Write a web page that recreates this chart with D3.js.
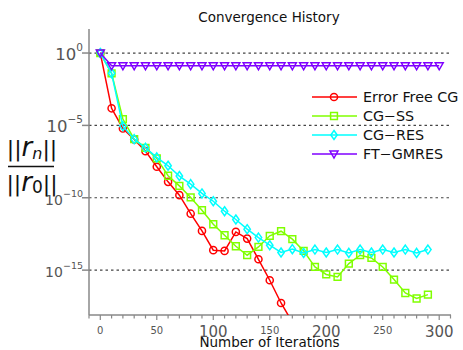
<!DOCTYPE html>
<html>
<head>
<meta charset="utf-8">
<script src="https://cdn.jsdelivr.net/npm/d3@7"></script>
<style>
  body { margin: 0; background: #fff; }
  text { font-family: "DejaVu Sans", sans-serif; }
</style>
</head>
<body>
<svg></svg>
<script>
// iterations every 10, values are log10 of the relative residual
let iters = d3.range(0, 310, 10)
let errorFreeCG = [0, -3.82, -5.21, -5.97, -6.78, -7.86, -8.9, -9.82, -11.1, -12.29,
  -13.62, -13.67, -12.36, -12.82, -14.25, -15.7, -17.27, -18.6]
let cgSS = [0, -1.4, -4.56, -5.95, -6.55, -7.28, -8.48, -9.18, -9.98, -10.86,
  -11.83, -12.59, -13.35, -13.97, -13.4, -12.63, -12.31, -12.86, -13.67, -14.78,
  -15.3, -15.47, -14.55, -13.97, -14.16, -14.78, -15.65, -16.58, -16.96, -16.69]
let cgRES = [0, -1.4, -5.05, -5.95, -6.55, -7.21, -7.79, -8.5, -9.06, -9.7,
  -10.24, -10.93, -11.5, -12.17, -12.75, -13.28, -13.78, -13.55, -13.81, -13.58,
  -13.78, -13.58, -13.81, -13.58, -13.78, -13.58, -13.78, -13.58, -13.81, -13.58]
let ftGMRES = [0].concat(d3.range(30).map(() => -0.88))
let seriesNames = ['Error Free CG', 'CG\u2212SS', 'CG\u2212RES', 'FT\u2212GMRES']
let xTicks = [0, 50, 100, 150, 200, 250, 300]
let bigXTicks = [100, 200, 300]
let yTickExps = [0, -5, -10, -15]

let width = 463,
    height = 350

let svg = d3.select('svg').attr('width', width).attr('height', height)

let x = d3.scaleLinear().domain([-10, 310]).range([89, 450.5])
let y = d3.scaleLog().domain([Math.pow(10, -18.1), Math.pow(10, 1.66)]).range([315, 29])

let series = [
  { name: seriesNames[0], values: errorFreeCG, color: '#ff0000', marker: 'circle' },
  { name: seriesNames[1], values: cgSS, color: '#80ff00', marker: 'square' },
  { name: seriesNames[2], values: cgRES, color: '#00ffff', marker: 'diamond' },
  { name: seriesNames[3], values: ftGMRES, color: '#7f00ff', marker: 'triangle' }
]

// clip for lines running off the bottom
svg.append('clipPath').attr('id', 'plot')
  .append('rect').attr('x', 89).attr('y', 20).attr('width', 370).attr('height', 295)

// grid
svg.append('g').selectAll('line')
  .data(yTickExps)
  .enter().append('line')
  .attr('x1', 89).attr('x2', 452)
  .attr('y1', d => y(Math.pow(10, d))).attr('y2', d => y(Math.pow(10, d)))
  .attr('stroke', '#444').attr('stroke-width', 1.2).attr('stroke-dasharray', '2.5,3')

// axes
let ax = svg.append('g').attr('stroke', '#888').attr('stroke-width', 1.5)
ax.append('line').attr('x1', 89).attr('x2', 89).attr('y1', 29).attr('y2', 315)
ax.append('line').attr('x1', 89).attr('x2', 451).attr('y1', 315).attr('y2', 315)
ax.selectAll('.xt').data(d3.range(-10, 311, 10)).enter().append('line')
  .attr('x1', d => x(d)).attr('x2', d => x(d))
  .attr('y1', 315).attr('y2', d => d % 50 == 0 ? 320 : 318.5)
  .attr('stroke-width', 1.2)
ax.selectAll('.yt').data(yTickExps).enter().append('line')
  .attr('x1', 82).attr('x2', 89)
  .attr('y1', d => y(Math.pow(10, d))).attr('y2', d => y(Math.pow(10, d)))

// x tick labels, matlab mixes sizes here
svg.append('g').selectAll('text')
  .data(xTicks)
  .enter().append('text')
  .attr('x', d => x(d))
  .attr('y', d => bigXTicks.includes(d) ? 336.5 : 333.5)
  .attr('text-anchor', 'middle')
  .attr('fill', '#555')
  .attr('font-size', d => bigXTicks.includes(d) ? 15 : 10)
  .text(d => d)

// y tick labels
let yl = svg.append('g').selectAll('text')
  .data(yTickExps)
  .enter().append('text')
  .attr('x', 83)
  .attr('y', d => y(Math.pow(10, d)) + 7)
  .attr('text-anchor', 'end')
  .attr('fill', '#555')
  .attr('font-size', d => d > -10 ? 16.5 : 14)
yl.append('tspan').text('10')
yl.append('tspan').attr('dy', d => d > -10 ? -9 : -8)
  .attr('font-size', d => d > -10 ? 10.5 : 9.5)
  .text(d => d == 0 ? '0' : '\u2212' + (-d))

// series
let line = d3.line().x((d, i) => x(iters[i])).y(d => y(Math.pow(10, d)))

function markerPath(type) {
  if (type == 'circle') return d3.symbol(d3.symbolCircle, 40)()
  if (type == 'square') return 'M-3.4,-3.4H3.4V3.4H-3.4Z'
  if (type == 'diamond') return 'M0,-4.5L3.2,0L0,4.5L-3.2,0Z'
  return 'M-4,-3L4,-3L0,4Z'
}

let g = svg.append('g').attr('clip-path', 'url(#plot)')
series.forEach(s => {
  g.append('path')
    .attr('d', line(s.values))
    .attr('fill', 'none')
    .attr('stroke', s.color)
    .attr('stroke-width', 1.5)
  g.selectAll('.m')
    .data(s.values.filter(v => v > -18.1))
    .enter().append('path')
    .attr('transform', (d, i) => `translate(${x(iters[i])},${y(Math.pow(10, d))})`)
    .attr('d', markerPath(s.marker))
    .attr('fill', 'none')
    .attr('stroke', s.color)
    .attr('stroke-width', 1.5)
})

// legend
let lg = svg.append('g').selectAll('g')
  .data(series)
  .enter().append('g')
  .attr('transform', (d, i) => `translate(312,${97 + i * 19})`)
lg.append('line').attr('x1', 0).attr('x2', 45)
  .attr('stroke', d => d.color).attr('stroke-width', 1.5)
lg.append('path').attr('transform', 'translate(22,0)')
  .attr('d', d => markerPath(d.marker))
  .attr('fill', 'none').attr('stroke', d => d.color).attr('stroke-width', 1.5)
lg.append('text').attr('x', 51).attr('y', 5)
  .attr('font-size', 14.3).attr('fill', '#111')
  .text(d => d.name)

// title and labels
svg.append('text').attr('x', 269).attr('y', 22).attr('text-anchor', 'middle')
  .attr('font-size', 13.5).attr('fill', '#111').text('Convergence History')
svg.append('text').attr('x', 269.5).attr('y', 347).attr('text-anchor', 'middle')
  .attr('font-size', 13.5).attr('fill', '#111').text('Number of Iterations')

// ||r_n|| / ||r_0||
let num = svg.append('text').attr('x', 32).attr('y', 156).attr('text-anchor', 'middle')
  .attr('font-size', 22).attr('fill', '#111')
num.append('tspan').text('||')
num.append('tspan').attr('font-style', 'italic').attr('font-size', 26).text('r')
num.append('tspan').attr('font-style', 'italic').attr('font-size', 16).attr('dy', 3).text('n')
num.append('tspan').attr('dy', -3).text('||')
let den = svg.append('text').attr('x', 32).attr('y', 191).attr('text-anchor', 'middle')
  .attr('font-size', 22).attr('fill', '#111')
den.append('tspan').text('||')
den.append('tspan').attr('font-style', 'italic').attr('font-size', 26).text('r')
den.append('tspan').attr('font-size', 17).attr('dy', 2).text('0')
den.append('tspan').attr('dy', -2).text('||')
svg.append('line').attr('x1', 8).attr('x2', 54).attr('y1', 166.5).attr('y2', 166.5)
  .attr('stroke', '#111').attr('stroke-width', 1.5)
</script>
</body>
</html>
